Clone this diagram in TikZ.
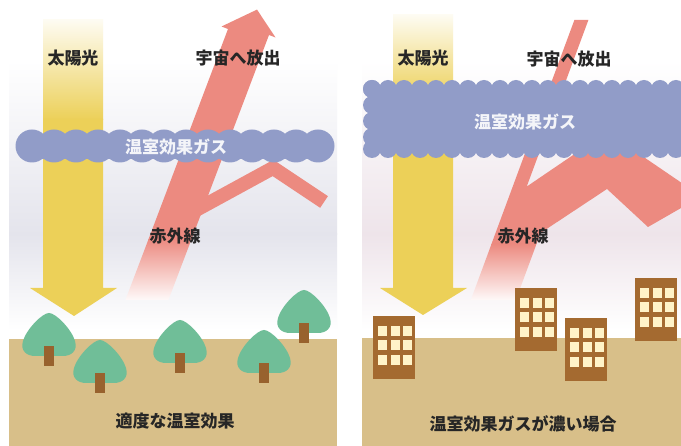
\documentclass[tikz,border=0pt]{standalone}
\usepackage{fontspec}
\newfontfamily\jpfont{Noto Sans CJK JP}
\definecolor{sky}{RGB}{228,228,236}
\definecolor{skypink}{RGB}{238,228,234}
\definecolor{ground}{RGB}{216,191,137}
\definecolor{gas}{RGB}{145,156,200}
\definecolor{infrared}{RGB}{236,138,128}
\definecolor{sunlight}{RGB}{236,208,88}
\definecolor{leaf}{RGB}{112,190,152}
\definecolor{trunk}{RGB}{152,98,46}
\definecolor{bldg}{RGB}{164,106,48}
\definecolor{window}{RGB}{255,243,200}
\begin{document}
\begin{tikzpicture}[x=1pt, y=-1pt, line join=round,
    label/.style={font=\jpfont\bfseries\fontsize{17}{20}\selectfont, text=black!85, inner sep=0pt},
    gaslabel/.style={label, text=white!90!gas}]
\useasboundingbox (0,0) rectangle (681,446);
\fill[white] (0,0) rectangle (681,446);
% left: moderate greenhouse effect
\begin{scope}
    \clip (9,0) rectangle (337,446);
    \shade[top color=white, bottom color=sky] (9,60) rectangle (337,235);
    \shade[top color=sky, bottom color=white] (9,234) rectangle (337,330);
    \shade[top color=sunlight!8, bottom color=sunlight] (43,20) rectangle (103,120);
    \fill[sunlight] (43,119) -- (43,288) -- (30,288) -- (74,316) -- (117,288) -- (103,288) -- (103,119) -- cycle;
    \fill[infrared] (148.2,240) -- (228,29) -- (221.5,26.5) -- (257,9.6) -- (275.5,37.5) -- (269,35) -- (191.2,240) -- cycle;
    \shade[top color=infrared, bottom color=infrared!5!white] (125.4,300) -- (148.6,239) -- (191.6,239) -- (168.4,300) -- cycle;
    \draw[infrared, line width=14pt, line join=miter] (196,210) -- (273,168) -- (324,202);
    \fill[gas] (25,134) rectangle (325,159);
    \foreach \x in {32,54,...,318}
        \fill[gas] (\x,146) circle (16.5);
    \fill[ground] (9,339) rectangle (337,446);
    \foreach \cx/\ty in {49/313, 100/340, 180/320, 264/330, 304/290}{
        \fill[leaf] (\cx,\ty) .. controls (\cx+7,\ty) and (\cx+23,\ty+17) .. (\cx+26,\ty+28)
            .. controls (\cx+29,\ty+38) and (\cx+22,\ty+43) .. (\cx+14,\ty+43) -- (\cx-14,\ty+43)
            .. controls (\cx-22,\ty+43) and (\cx-29,\ty+38) .. (\cx-26,\ty+28)
            .. controls (\cx-23,\ty+17) and (\cx-7,\ty) .. (\cx,\ty) -- cycle;
        \fill[trunk] (\cx-5,\ty+33) rectangle (\cx+5,\ty+53);
    }
\end{scope}
\node[label] (sunL) at (73,58) {太陽光};
\node[label] (spaceL) at (238,58) {宇宙へ放出};
\node[gaslabel] (gasL) at (176,147) {温室効果ガス};
\node[label] (irL) at (175,236) {赤外線};
\node[label] (titleL) at (175,421) {適度な温室効果};
% right: dense greenhouse gas
\begin{scope}
    \clip (362,0) rectangle (681,446);
    \shade[top color=white, bottom color=skypink] (362,60) rectangle (681,235);
    \shade[top color=skypink, bottom color=white] (362,234) rectangle (681,330);
    \shade[top color=sunlight!8, bottom color=sunlight] (393,15) rectangle (453,100);
    \fill[sunlight] (393,99) -- (393,288) -- (380,288) -- (423,315) -- (467,288) -- (453,288) -- (453,99) -- cycle;
    \fill[infrared] (491.1,245) -- (574.4,20) -- (588.4,20) -- (526.7,186.6) -- (607,132) -- (695,192)
        -- (695,200) -- (648,227) -- (607,189) -- (540.5,233) -- (536.1,245) -- cycle;
    \shade[top color=infrared, bottom color=infrared!5!white] (470.8,300) -- (491.5,244) -- (536.5,244) -- (515.8,300) -- cycle;
    \fill[gas] (371,88) rectangle (700,150);
    \foreach \x in {372,388,...,692}{
        \fill[gas] (\x,89) circle (9);
        \fill[gas] (\x,149) circle (9);
    }
    \foreach \y in {89,105,...,149}
        \fill[gas] (372,\y) circle (9);
    \fill[ground] (362,338) rectangle (681,446);
    \foreach \bx/\by in {373/316, 515/288, 565/318, 635/278}{
        \fill[bldg] (\bx,\by) rectangle (\bx+42,\by+63);
        \foreach \i in {0,1,2}
            \foreach \j in {0,1,2}
                \fill[window] (\bx+5+12.5*\i,\by+10+14.5*\j) rectangle ++(9,10);
    }
\end{scope}
\node[label] (sunR) at (423,58) {太陽光};
\node[label] (spaceR) at (569,59) {宇宙へ放出};
\node[gaslabel] (gasR) at (525,122) {温室効果ガス};
\node[label] (irR) at (523,236) {赤外線};
\node[label] (titleR) at (523,424) {温室効果ガスが濃い場合};
\end{tikzpicture}
\end{document}
